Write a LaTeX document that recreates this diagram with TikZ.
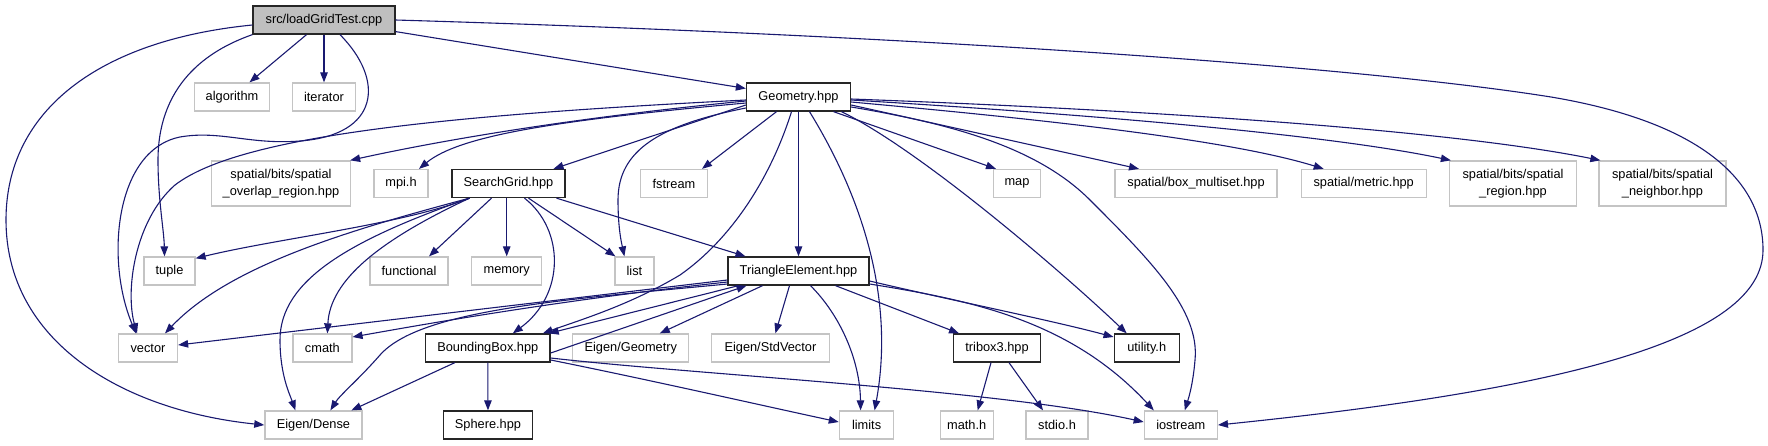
\documentclass[tikz,border=0pt]{standalone}
\usepackage{fontspec}
\setmainfont{Liberation Sans}
\usetikzlibrary{arrows.meta}
\definecolor{edgec}{HTML}{191970}
\definecolor{greyb}{HTML}{C4C4C4}
\definecolor{rootf}{HTML}{BFBFBF}
\tikzset{
  base/.style={rectangle, inner sep=0pt, minimum height=28pt, font=\fontsize{12.8}{17}\selectfont, align=center, fill=white},
  ext/.style={base, draw=greyb, line width=1.3pt},
  own/.style={base, draw=black!85, line width=1.3pt},
  rootn/.style={own, fill=rootf},
  edge/.style={draw=edgec, line width=1.1pt, -{Triangle[length=10pt,width=7.5pt]}},
}
\begin{document}
\begin{tikzpicture}[x=1pt,y=-1pt]
\path[use as bounding box] (0,0) rectangle (1768,445);
% row 0
\node[rootn, minimum width=142pt] (L) at (324,20) {src/loadGridTest.cpp};
% row 1
\node[ext, minimum width=75pt] (algorithm) at (232,97) {algorithm};
\node[ext, minimum width=63pt] (iterator) at (324,97) {iterator};
\node[own, minimum width=104pt] (geo) at (798.5,97) {Geometry.hpp};
% row 2
\node[ext, minimum width=139pt, minimum height=45pt] (overlap) at (281,183.5) {spatial/bits/spatial\\\_overlap\_region.hpp};
\node[ext, minimum width=54pt] (mpi) at (401,183.5) {mpi.h};
\node[own, minimum width=113pt] (sgrid) at (508.5,183.5) {SearchGrid.hpp};
\node[ext, minimum width=67pt] (fstream) at (674,183.5) {fstream};
\node[ext, minimum width=47pt] (map) at (1017,183.5) {map};
\node[ext, minimum width=162pt] (boxm) at (1196,183.5) {spatial/box\_multiset.hpp};
\node[ext, minimum width=125pt] (metric) at (1363.7,183.5) {spatial/metric.hpp};
\node[ext, minimum width=127pt, minimum height=45pt] (sregion) at (1513,183.5) {spatial/bits/spatial\\\_region.hpp};
\node[ext, minimum width=127pt, minimum height=45pt] (sneigh) at (1662.5,183.5) {spatial/bits/spatial\\\_neighbor.hpp};
% row 3
\node[ext, minimum width=51pt] (tuple) at (169.5,271) {tuple};
\node[ext, minimum width=78pt] (functional) at (409,271) {functional};
\node[ext, minimum width=70pt] (memory) at (506.7,271) {memory};
\node[ext, minimum width=39pt] (list) at (634.4,271) {list};
\node[own, minimum width=141pt] (tri) at (798.5,271) {TriangleElement.hpp};
% row 4
\node[ext, minimum width=59pt] (vector) at (148,348) {vector};
\node[ext, minimum width=59pt] (cmath) at (322.4,348) {cmath};
\node[own, minimum width=124.5pt] (bbox) at (487.8,348) {BoundingBox.hpp};
\node[ext, minimum width=116pt] (egeom) at (630.8,348) {Eigen/Geometry};
\node[ext, minimum width=118pt] (estd) at (770.4,348) {Eigen/StdVector};
\node[own, minimum width=87.6pt] (tribox) at (997,348) {tribox3.hpp};
\node[own, minimum width=65pt] (utility) at (1146.7,348) {utility.h};
% row 5
\node[ext, minimum width=97pt] (dense) at (313.4,425) {Eigen/Dense};
\node[own, minimum width=89pt] (sphere) at (488,425) {Sphere.hpp};
\node[ext, minimum width=54.4pt] (limits) at (866.6,425) {limits};
\node[ext, minimum width=53pt] (math) at (966.7,425) {math.h};
\node[ext, minimum width=62pt] (stdio) at (1057,425) {stdio.h};
\node[ext, minimum width=73pt] (iostream) at (1180.8,425) {iostream};

% ---- edges from loadGridTest
\draw[edge] (L) -- (algorithm);
\draw[edge] (L) -- (iterator);
\draw[edge] (L) -- (geo);
\draw[edge] (L.east) .. controls (900,35) and (1350,65) .. (1551,97)
  .. controls (1700,122) and (1763,180) .. (1763,250)
  .. controls (1763,340) and (1560,390) .. (iostream.east);
\draw[edge] ([yshift=-5pt]L.west) .. controls (100,40) and (6,110) .. (6,220)
  .. controls (6,340) and (120,410) .. (dense.west);
\draw[edge] (L.south west) .. controls (180,60) and (158,110) .. (158,160)
  .. controls (158,200) and (164,230) .. ([xshift=-5pt]tuple.north);
\draw[edge] ([xshift=16pt]L.south) .. controls (385,80) and (380,135) .. (300,141)
  .. controls (250,145) and (220,130) .. (180,137)
  .. controls (115,150) and (105,260) .. ([xshift=-12pt]vector.north);

% ---- edges from Geometry
\draw[edge] ([yshift=-4pt]geo.west) .. controls (550,120) and (420,145) .. ([xshift=-1pt]overlap.north east);
\draw[edge] ([yshift=-6pt]geo.west) .. controls (560,120) and (460,135) .. ([xshift=18pt]mpi.north);
\draw[edge] ([yshift=-8pt]geo.west) -- ([xshift=45pt]sgrid.north);
\draw[edge] ([yshift=-3pt]geo.west) .. controls (450,115) and (240,135) .. (175,185)
  .. controls (135,220) and (125,290) .. ([xshift=-11pt]vector.north);
\draw[edge] ([yshift=-11pt]geo.west) .. controls (660,125) and (618,150) .. (618,200)
  .. controls (618,230) and (622,245) .. ([xshift=-10pt]list.north);
\draw[edge] ([xshift=-7pt]geo.south) .. controls (770,180) and (730,240) .. (680,275)
  .. controls (630,305) and (580,320) .. ([xshift=55pt]bbox.north);
\draw[edge] ([xshift=-22pt]geo.south) -- ([xshift=28pt]fstream.north);
\draw[edge] (geo) -- (tri);
\draw[edge] ([xshift=11pt]geo.south) .. controls (870,210) and (893,310) .. ([xshift=8pt]limits.north);
\draw[edge] ([xshift=35pt]geo.south) -- ([xshift=-21pt]map.north);
\draw[edge] ([yshift=-8pt]geo.east) -- ([xshift=-57pt]boxm.north);
\draw[edge] ([yshift=-5pt]geo.east) .. controls (1050,120) and (1230,140) .. ([xshift=-40pt]metric.north);
\draw[edge] ([yshift=-3pt]geo.east) .. controls (1100,115) and (1330,135) .. ([xshift=2pt]sregion.north west);
\draw[edge] ([yshift=-2pt]geo.east) .. controls (1150,110) and (1450,130) .. ([xshift=2pt]sneigh.north west);
\draw[edge] ([xshift=43pt]geo.south) .. controls (920,150) and (1060,270) .. ([xshift=-20pt]utility.north);
\draw[edge] ([yshift=-10pt]geo.east) .. controls (960,125) and (1040,150) .. (1090,200)
  .. controls (1150,260) and (1200,310) .. (1195,360)
  .. controls (1193,385) and (1188,400) .. ([xshift=4pt]iostream.north);

% ---- edges from SearchGrid
\draw[edge] ([xshift=-39pt]sgrid.south) .. controls (400,225) and (280,238) .. ([yshift=-2pt]tuple.north east);
\draw[edge] ([xshift=-39pt]sgrid.south) .. controls (350,230) and (230,265) .. ([xshift=17pt]vector.north);
\draw[edge] ([xshift=-39pt]sgrid.south) .. controls (350,240) and (280,280) .. (280,340)
  .. controls (280,375) and (290,395) .. ([xshift=-18pt]dense.north);
\draw[edge] ([xshift=-39pt]sgrid.south) .. controls (380,240) and (330,280) .. ([xshift=5pt]cmath.north);
\draw[edge] ([xshift=-17pt]sgrid.south) -- ([xshift=20pt]functional.north);
\draw[edge] (memory.north |- sgrid.south) -- (memory.north);
\draw[edge] ([xshift=16pt]sgrid.south) .. controls (565,230) and (565,295) .. ([xshift=25pt]bbox.north);
\draw[edge] ([xshift=20pt]sgrid.south) -- ([xshift=-19pt]list.north);
\draw[edge] ([xshift=48pt]sgrid.south) -- ([xshift=-53pt]tri.north);

% ---- edges from TriangleElement
\draw[edge] ([yshift=-9pt]tri.west) -- ([yshift=3pt]vector.east);
\draw[edge] ([yshift=-11pt]tri.west) .. controls (560,300) and (420,325) .. ([yshift=11pt]cmath.east);
\draw[edge] ([yshift=-13pt]tri.west) .. controls (560,300) and (420,310) .. (380,355)
  .. controls (360,378) and (340,395) .. ([xshift=17pt]dense.north);
\draw[edge] ([xshift=-60pt]tri.south) -- ([xshift=-2pt]bbox.north east);
\draw[edge] ([yshift=-5pt]bbox.east) -- ([xshift=-52pt]tri.south);
\draw[edge] ([xshift=-36pt]tri.south) -- ([xshift=29pt]egeom.north);
\draw[edge] ([xshift=-9pt]tri.south) -- ([xshift=5pt]estd.north);
\draw[edge] ([xshift=12pt]tri.south) .. controls (840,315) and (860,360) .. ([xshift=-6pt]limits.north);
\draw[edge] ([xshift=37pt]tri.south) -- ([xshift=-38pt]tribox.north);
\draw[edge] ([yshift=-10pt]tri.east) .. controls (950,300) and (1050,320) .. ([yshift=11pt]utility.west);
\draw[edge] ([yshift=-13pt]tri.east) .. controls (970,300) and (1070,320) .. ([xshift=-27pt]iostream.north);

% ---- edges from BoundingBox
\draw[edge] ([xshift=-33pt]bbox.south) -- ([xshift=38pt]dense.north);
\draw[edge] (bbox) -- (sphere);
\draw[edge] ([yshift=-12pt]bbox.east) .. controls (650,380) and (760,405) .. ([yshift=3pt]limits.west);
\draw[edge] ([yshift=-10pt]bbox.east) .. controls (700,375) and (1000,390) .. ([yshift=3pt]iostream.west);

% ---- edges from tribox3
\draw[edge] ([xshift=-6pt]tribox.south) -- ([xshift=11pt]math.north);
\draw[edge] ([xshift=12pt]tribox.south) -- ([xshift=-14pt]stdio.north);
\end{tikzpicture}
\end{document}
